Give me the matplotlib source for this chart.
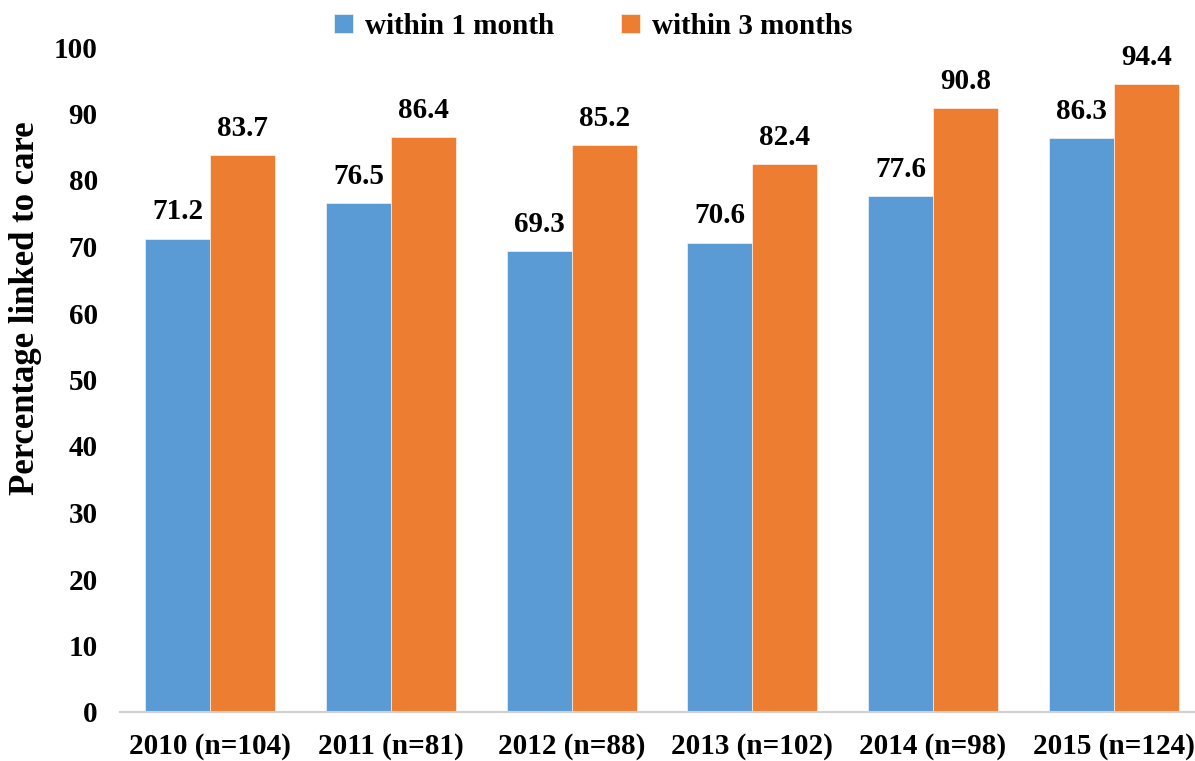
import numpy as np
import matplotlib
matplotlib.use("Agg")
import matplotlib.pyplot as plt

categories = ["2010 (n=104)", "2011 (n=81)", "2012 (n=88)",
              "2013 (n=102)", "2014 (n=98)", "2015 (n=124)"]
within_1_month = [71.2, 76.5, 69.3, 70.6, 77.6, 86.3]
within_3_months = [83.7, 86.4, 85.2, 82.4, 90.8, 94.4]

plt.rcParams['font.family'] = ['Liberation Serif', 'DejaVu Serif']
plt.rcParams['font.weight'] = 'bold'

fig = plt.figure(figsize=(11.95, 7.61), dpi=100)
# axes box in pixels: left 120, right ~1204, bottom y=712, top (100) y=47
ax = fig.add_axes([120 / 1195, (761 - 712) / 761, 1084 / 1195, (712 - 47) / 761])

x = np.arange(len(categories))
w = 0.36
b1 = ax.bar(x - w / 2, within_1_month, w, color='#5B9BD5', label='within 1 month',
            edgecolor='white', linewidth=0.4)
b2 = ax.bar(x + w / 2, within_3_months, w, color='#ED7D31', label='within 3 months',
            edgecolor='white', linewidth=0.4)

for bars, vals in ((b1, within_1_month), (b2, within_3_months)):
    for r, v in zip(bars, vals):
        ax.text(r.get_x() + r.get_width() / 2, v + 2.0, f"{v:.1f}",
                ha='center', va='bottom', fontsize=21, fontweight='bold')

ax.set_xlim(-0.5, len(categories) - 0.5)
ax.set_ylim(0, 100)
ax.set_yticks(range(0, 101, 10))
ax.set_xticks(x)
ax.set_xticklabels(categories, fontsize=21, fontweight='bold')
ax.tick_params(axis='y', labelsize=21, length=0, pad=16)
ax.tick_params(axis='x', length=0, pad=15)
for lbl in ax.get_yticklabels():
    lbl.set_fontweight('bold')

for s in ('top', 'right', 'left'):
    ax.spines[s].set_visible(False)
ax.spines['bottom'].set_color('#D0D0D0')
ax.spines['bottom'].set_linewidth(1.5)

ax.set_ylabel('Percentage linked to care', fontsize=25, fontweight='bold', va='center')
ax.yaxis.set_label_coords(-0.087, 0.607)

fig.legend(handles=[b1, b2], loc='center', bbox_to_anchor=(593 / 1195, 1 - 26 / 761),
           ncol=2, frameon=False, handlelength=0.65, handleheight=0.65,
           columnspacing=2.3, handletextpad=0.4, prop={'weight': 'bold', 'size': 21})

fig.savefig('out.png', dpi=100)
